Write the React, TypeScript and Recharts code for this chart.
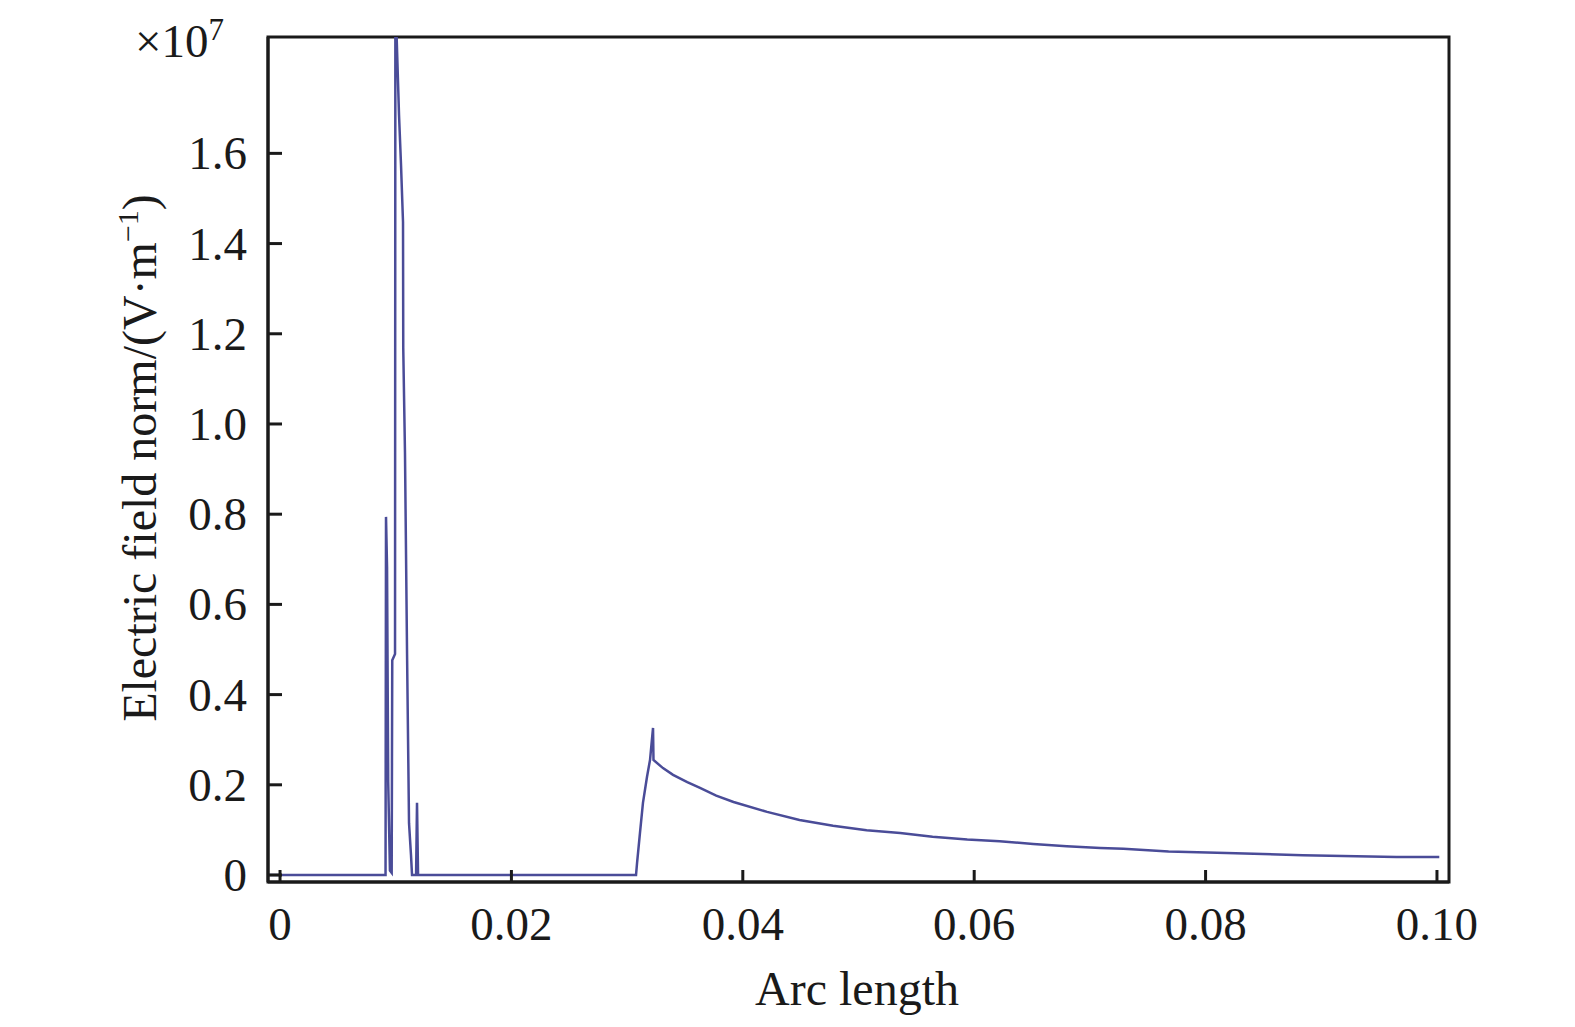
import { LineChart, Line, XAxis, YAxis, ReferenceArea } from "recharts";

const arcLength = [
  -0.00104, 0.00912, 0.00916, 0.00925, 0.00935, 0.0095, 0.00965, 0.0097, 0.00994,
  0.00997, 0.010285, 0.010458, 0.01063, 0.01065, 0.0108, 0.01098, 0.01115, 0.01132,
  0.01141, 0.01176, 0.01184, 0.01193, 0.03077, 0.03086, 0.03111, 0.03137, 0.03172,
  0.03198, 0.03224, 0.03228, 0.0331, 0.03397, 0.0352, 0.0363, 0.0377, 0.0392, 0.0421,
  0.0449, 0.0478, 0.0507, 0.0536, 0.0564, 0.0594, 0.0622, 0.0651, 0.068, 0.0709,
  0.0729, 0.0768, 0.0818, 0.0884, 0.0965, 0.1002,
];
const fieldNorm = [
  0, 0, 0.794, 0.683, 0.206, 0.01, 0.005, 0.476, 0.49,
  1.95, 1.685, 1.574, 1.448, 1.169, 0.936, 0.488, 0.115, 0.044,
  0, 0, 0.16, 0, 0, 0.027, 0.093, 0.16, 0.218,
  0.255, 0.326, 0.255, 0.237, 0.222, 0.206, 0.193, 0.176, 0.162, 0.14,
  0.122, 0.109, 0.099, 0.093, 0.085, 0.079, 0.075, 0.069, 0.064, 0.06,
  0.058, 0.052, 0.049, 0.044, 0.04, 0.04,
];
const xTicks = [0, 0.02, 0.04, 0.06, 0.08, 0.1];
const yTicks = [0, 0.2, 0.4, 0.6, 0.8, 1.0, 1.2, 1.4, 1.6];
const xDomain = [-0.00104, 0.10104];
const yDomain = [-0.0155, 1.858];

const data = arcLength.map((s, i) => ({ s, e: fieldNorm[i] }));

const INK = "#1a1a1a";
const LINE = "#4a4c98";
const FONT = "'Liberation Serif', 'Times New Roman', serif";

const XTick = (props: any) => {
  const { x, y, payload } = props;
  const v = payload.value;
  return (
    <g>
      <line x1={x} x2={x} y1={y} y2={y - 12} stroke={INK} strokeWidth={3} />
      <text x={x} y={y + 58} textAnchor="middle" fontSize={47} fontFamily={FONT} fill={INK}>
        {v === 0 ? "0" : v.toFixed(2)}
      </text>
    </g>
  );
};

const YTick = (props: any) => {
  const { x, y, payload } = props;
  const v = payload.value;
  return (
    <g>
      <line x1={x} x2={x + 14} y1={y} y2={y} stroke={INK} strokeWidth={3} />
      <text x={x - 21} y={y + 16} textAnchor="end" fontSize={47} fontFamily={FONT} fill={INK}>
        {v === 0 ? "0" : v.toFixed(1)}
      </text>
    </g>
  );
};

export default function App() {
  return (
    <div style={{ position: "absolute", left: 0, top: 0, width: 1575, height: 1027, background: "#fff" }}>
      <LineChart
        width={1575}
        height={1027}
        data={data}
        margin={{ top: 37, right: 126, bottom: 85, left: 168 }}
      >
        <XAxis
          dataKey="s"
          type="number"
          domain={xDomain}
          allowDataOverflow
          ticks={xTicks}
          interval={0}
          height={60}
          tickSize={0}
          tickMargin={0}
          tickLine={false}
          tick={<XTick />}
          axisLine={{ stroke: INK, strokeWidth: 3 }}
        />
        <YAxis
          type="number"
          domain={yDomain}
          allowDataOverflow
          ticks={yTicks}
          interval={0}
          width={100}
          tickSize={0}
          tickMargin={0}
          tickLine={false}
          tick={<YTick />}
          axisLine={{ stroke: INK, strokeWidth: 3 }}
        />
        {/* plot frame */}
        <ReferenceArea
          x1={xDomain[0]}
          x2={xDomain[1]}
          y1={yDomain[0]}
          y2={yDomain[1]}
          fill="none"
          fillOpacity={0}
          stroke={INK}
          strokeWidth={3}
          ifOverflow="visible"
        />
        <Line
          type="linear"
          dataKey="e"
          stroke={LINE}
          strokeWidth={2.5}
          dot={false}
          activeDot={false}
          isAnimationActive={false}
        />
      </LineChart>
      <svg
        width={1575}
        height={1027}
        style={{ position: "absolute", left: 0, top: 0, pointerEvents: "none" }}
      >
        <text x={135} y={57} fontSize={47} fontFamily={FONT} fill={INK}>
          ×10
          <tspan dy={-17} fontSize={31}>7</tspan>
        </text>
        <text
          x={156}
          y={458}
          transform="rotate(-90 156 458)"
          textAnchor="middle"
          fontSize={48}
          fontFamily={FONT}
          fill={INK}
        >
          Electric field norm/(V·m
          <tspan dy={-18} fontSize={30}>−1</tspan>
          <tspan dy={18} fontSize={48}>)</tspan>
        </text>
        <text x={857} y={1005} textAnchor="middle" fontSize={48} fontFamily={FONT} fill={INK}>
          Arc length
        </text>
      </svg>
    </div>
  );
}
